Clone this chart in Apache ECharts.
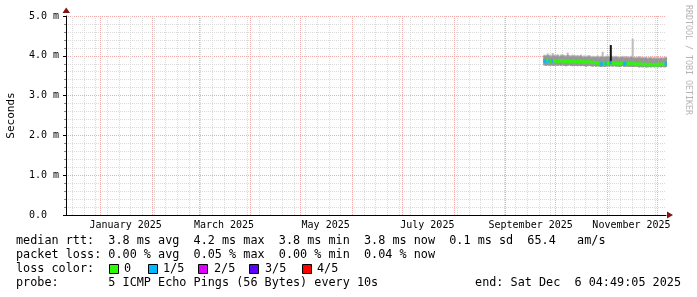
<!DOCTYPE html>
<html><head><meta charset="utf-8">
<script src="https://cdn.jsdelivr.net/npm/echarts@6/dist/echarts.min.js"></script>
<style>html,body{margin:0;padding:0;background:#fff}#c{width:697px;height:297px}</style>
</head><body><div id="c"></div>
<script>
// ---- axis range & tick labels ----
const axisStart = '2024-12-11T04:49:05Z';
const axisEnd = '2025-12-06T04:49:05Z';
const monthLabels = ['January 2025','March 2025','May 2025','July 2025','September 2025','November 2025'];
const monthLabelDates = ['2025-01-16T00:00:00Z','2025-03-16T00:00:00Z','2025-05-16T00:00:00Z','2025-07-16T00:00:00Z','2025-09-16T00:00:00Z','2025-11-15T12:00:00Z'];
const monthStarts = ['2025-01-01','2025-02-01','2025-03-01','2025-04-01','2025-05-01','2025-06-01','2025-07-01','2025-08-01','2025-09-01','2025-10-01','2025-11-01','2025-12-01'];
const firstWeekStart = '2024-12-15T00:00:00Z';
const yTickLabels = ['0.0','1.0 m','2.0 m','3.0 m','4.0 m','5.0 m'];

// ---- data (ms), one value per day starting at dataStart ----
const dataStart = '2025-09-24T02:00:00Z';
const medianRtt = [
 3.87,3.86,3.89,3.87,3.86,3.87,3.88,3.87,3.86,3.87,
 3.88,3.86,3.87,3.86,3.87,3.86,3.85,3.86,3.87,3.85,
 3.86,3.85,3.86,3.85,3.84,3.85,3.84,3.85,3.83,3.84,
 3.83,3.82,3.83,3.81,3.80,3.79,3.80,3.81,3.82,3.81,
 3.83,3.82,3.81,3.82,3.81,3.80,3.81,3.82,3.80,3.81,
 3.81,3.80,3.82,3.81,3.79,3.80,3.78,3.79,3.80,3.78,
 3.79,3.78,3.77,3.78,3.79,3.77,3.78,3.77,3.78,3.79,
 3.78,3.79,3.78,3.80];
const lossLevel = [
 1,1,0,1,0,1,0,0,0,0,
 0,0,0,0,0,0,0,0,0,0,
 0,0,0,0,0,0,0,0,0,0,
 0,0,0,0,1,1,0,1,0,0,
 1,0,0,0,0,0,0,0,1,1,
 0,0,0,0,0,0,0,0,0,0,
 0,0,0,0,0,0,0,0,0,0,
 0,0,0,1];
const smokeLow = [
 3.76,3.75,3.76,3.75,3.76,3.75,3.75,3.76,3.75,3.76,
 3.75,3.76,3.75,3.74,3.75,3.76,3.75,3.74,3.75,3.75,
 3.74,3.75,3.74,3.75,3.74,3.73,3.74,3.75,3.74,3.73,
 3.74,3.73,3.74,3.73,3.72,3.73,3.72,3.73,3.74,3.73,
 3.74,3.73,3.74,3.73,3.73,3.72,3.73,3.74,3.72,3.73,
 3.73,3.72,3.73,3.72,3.72,3.73,3.72,3.71,3.72,3.71,
 3.72,3.71,3.71,3.72,3.71,3.72,3.71,3.72,3.71,3.72,
 3.71,3.72,3.71,3.72];
const smokeHigh = [
 4.00,3.99,4.02,4.00,3.98,4.01,4.00,3.99,4.01,3.98,
 4.00,4.01,3.99,3.98,4.02,3.99,3.98,4.00,3.99,3.98,
 3.99,3.98,4.00,3.97,3.98,3.97,3.98,3.99,3.96,3.97,
 3.97,3.96,3.98,3.96,3.97,3.98,3.96,3.97,3.98,3.96,
 3.98,3.97,3.96,3.97,3.96,3.95,3.96,3.97,3.95,3.96,
 3.96,3.95,3.97,3.96,3.95,3.94,3.95,3.96,3.94,3.95,
 3.94,3.95,3.93,3.94,3.95,3.93,3.94,3.93,3.94,3.93,
 3.94,3.93,3.94,3.95];
const smokePeak = [
 4.03,4.02,4.06,4.03,4.01,4.07,4.03,4.02,4.04,4.01,
 4.03,4.04,4.02,4.01,4.08,4.02,4.01,4.03,4.02,4.01,
 4.02,4.01,4.03,4.00,4.01,4.00,4.01,4.02,3.99,4.00,
 4.00,3.99,4.01,3.99,4.00,4.10,3.99,4.00,4.01,3.99,
 4.01,4.00,3.99,4.00,3.99,3.98,3.99,4.00,3.98,3.99,
 3.99,3.98,4.00,4.43,3.98,3.97,3.98,3.99,3.97,3.98,
 3.97,3.98,3.96,3.97,3.98,3.96,3.97,3.96,3.97,3.96,
 3.97,3.96,3.97,3.98];
const darkSpikeDates = ['2025-11-03T02:00:00Z'];
const darkSpikeLow = [3.80];
const darkSpikeHigh = [4.27];

// ---- legend ----
const lossColors = ['#26ff00','#00b8ff','#dd00ff','#5e00ff','#ff0000'];
const lossLabels = ['0','1/5','2/5','3/5','4/5'];
const rttLine = 'median rtt:  3.8 ms avg  4.2 ms max  3.8 ms min  3.8 ms now  0.1 ms sd  65.4   am/s';
const lossLine = 'packet loss: 0.00 % avg  0.05 % max  0.00 % min  0.04 % now';
const probeLine = 'probe:       5 ICMP Echo Pings (56 Bytes) every 10s';
const endLine = 'end: Sat Dec  6 04:49:05 2025';
const watermark = 'RRDTOOL / TOBI OETIKER';

const DAY = 86400000;
const T = s => Date.parse(s);
const startTs = T(axisStart), endTs = T(axisEnd);
const dates = medianRtt.map((_, i) => T(dataStart) + i * DAY);
const weekTs = [];
for (let t = T(firstWeekStart); t < endTs; t += 7 * DAY) weekTs.push(t);
const monthTs = monthStarts.map(s => T(s + 'T00:00:00Z'));
const labelTs = monthLabelDates.map(T);

const MONO = 'DejaVu Sans Mono';
const chart = echarts.init(document.getElementById('c'), null, {renderer: 'canvas', width: 697, height: 297});

// band drawn through the axes' scales: each item [time, low, high]
const bandSeries = (name, lo, hi, color, halfWidthMs, pad) => ({
  name, type: 'custom', silent: true, encode: {x: 0, y: [1, 2]},
  renderItem: (params, api) => {
    const x = api.value(0), l = api.value(1), h = api.value(2);
    const a = api.coord([x - halfWidthMs, h]);
    const b = api.coord([x + halfWidthMs, l]);
    return {type: 'rect', shape: {x: a[0], y: a[1], width: b[0] - a[0] + pad, height: b[1] - a[1]},
            style: {fill: color}};
  },
  data: lo.map((v, i) => [name === 'dark' ? T(darkSpikeDates[i]) : dates[i], v, hi[i]])
});

const legendGraphics = [];
const txt = (x, y, text, extra) => legendGraphics.push({type: 'text', x, y, silent: true,
  style: Object.assign({text, fontFamily: MONO, fontSize: 11.8, fill: '#000', verticalAlign: 'middle', align: 'left'}, extra || {})});
txt(16, 241, rttLine);
txt(16, 255, lossLine);
txt(16, 269, 'loss color:');
const boxX = [109, 148, 198, 249, 302];
const labX = [124, 163, 214, 265, 317];
lossLabels.forEach((l, i) => {
  legendGraphics.push({type: 'rect', silent: true, shape: {x: boxX[i] + 0.5, y: 264.5, width: 9, height: 9},
    style: {fill: lossColors[i], stroke: '#000', lineWidth: 1}});
  txt(labX[i], 269, l);
});
txt(16, 283, probeLine);
txt(681, 283, endLine, {align: 'right'});
legendGraphics.push({type: 'text', x: 688, y: 5, rotation: -Math.PI / 2, silent: true,
  style: {text: watermark, fontFamily: MONO, fontSize: 8.3, fill: '#b4b4b4', align: 'left', verticalAlign: 'middle'}});
legendGraphics.push({type: 'polygon', silent: true, shape: {points: [[62.5, 13], [70, 13], [66.2, 7.5]]}, style: {fill: '#801515'}});
legendGraphics.push({type: 'polygon', silent: true, shape: {points: [[667, 211.5], [667, 218.5], [673, 215]]}, style: {fill: '#801515'}});

const option = {
  backgroundColor: '#ffffff',
  animation: false,
  grid: {left: 66, right: 31, top: 16, bottom: 82, containLabel: false, outerBoundsMode: 'none'},
  xAxis: [
    {type: 'value', min: startTs, max: endTs,
     axisLine: {show: true, onZero: false, lineStyle: {color: '#000', width: 1}},
     axisTick: {show: false, customValues: weekTs},
     splitLine: {show: true, lineStyle: {color: '#dadada', width: 1, type: [1, 1]}},
     axisLabel: {show: true, customValues: labelTs, margin: 5, fontFamily: MONO, fontSize: 10, color: '#000',
       formatter: v => { const k = labelTs.indexOf(v); return k >= 0 ? monthLabels[k] : ''; }}},
    {type: 'value', min: startTs, max: endTs, position: 'bottom',
     axisLine: {show: false}, axisTick: {show: false, customValues: monthTs},
     splitLine: {show: true, lineStyle: {color: '#efaaaa', width: 1, type: [1, 1]}},
     axisLabel: {show: false}}
  ],
  yAxis: {type: 'value', min: 0, max: 5, interval: 1,
    axisLine: {show: true, lineStyle: {color: '#000'}},
    axisTick: {show: true, length: 3, lineStyle: {color: '#000'}},
    minorTick: {show: true, splitNumber: 5, length: 2, lineStyle: {color: '#888'}},
    splitLine: {show: true, lineStyle: {color: '#efaaaa', type: [1, 1]}},
    minorSplitLine: {show: true, lineStyle: {color: '#dadada', type: [1, 1]}},
    axisLabel: {margin: 37, align: 'left', fontFamily: MONO, fontSize: 10, color: '#000',
      formatter: v => yTickLabels[Math.round(v)]},
    name: 'Seconds', nameLocation: 'middle', nameGap: 49, nameRotate: 90,
    nameTextStyle: {fontFamily: MONO, fontSize: 11, color: '#000'}},
  series: [
    bandSeries('peak', smokeLow, smokePeak, '#bdbdbd', DAY / 2, 0.4),
    bandSeries('smoke', smokeLow, smokeHigh, '#979797', DAY / 2, 0.4),
    bandSeries('dark', darkSpikeLow, darkSpikeHigh, '#151515', DAY * 0.6, 0),
    {name: 'median', type: 'scatter', symbol: 'rect', symbolSize: [2.4, 3.4], silent: true,
     itemStyle: {color: p => lossColors[p.data[2]]},
     data: dates.map((d, i) => [d, medianRtt[i], lossLevel[i]])}
  ],
  graphic: legendGraphics
};
chart.setOption(option);
</script>
</body></html>
